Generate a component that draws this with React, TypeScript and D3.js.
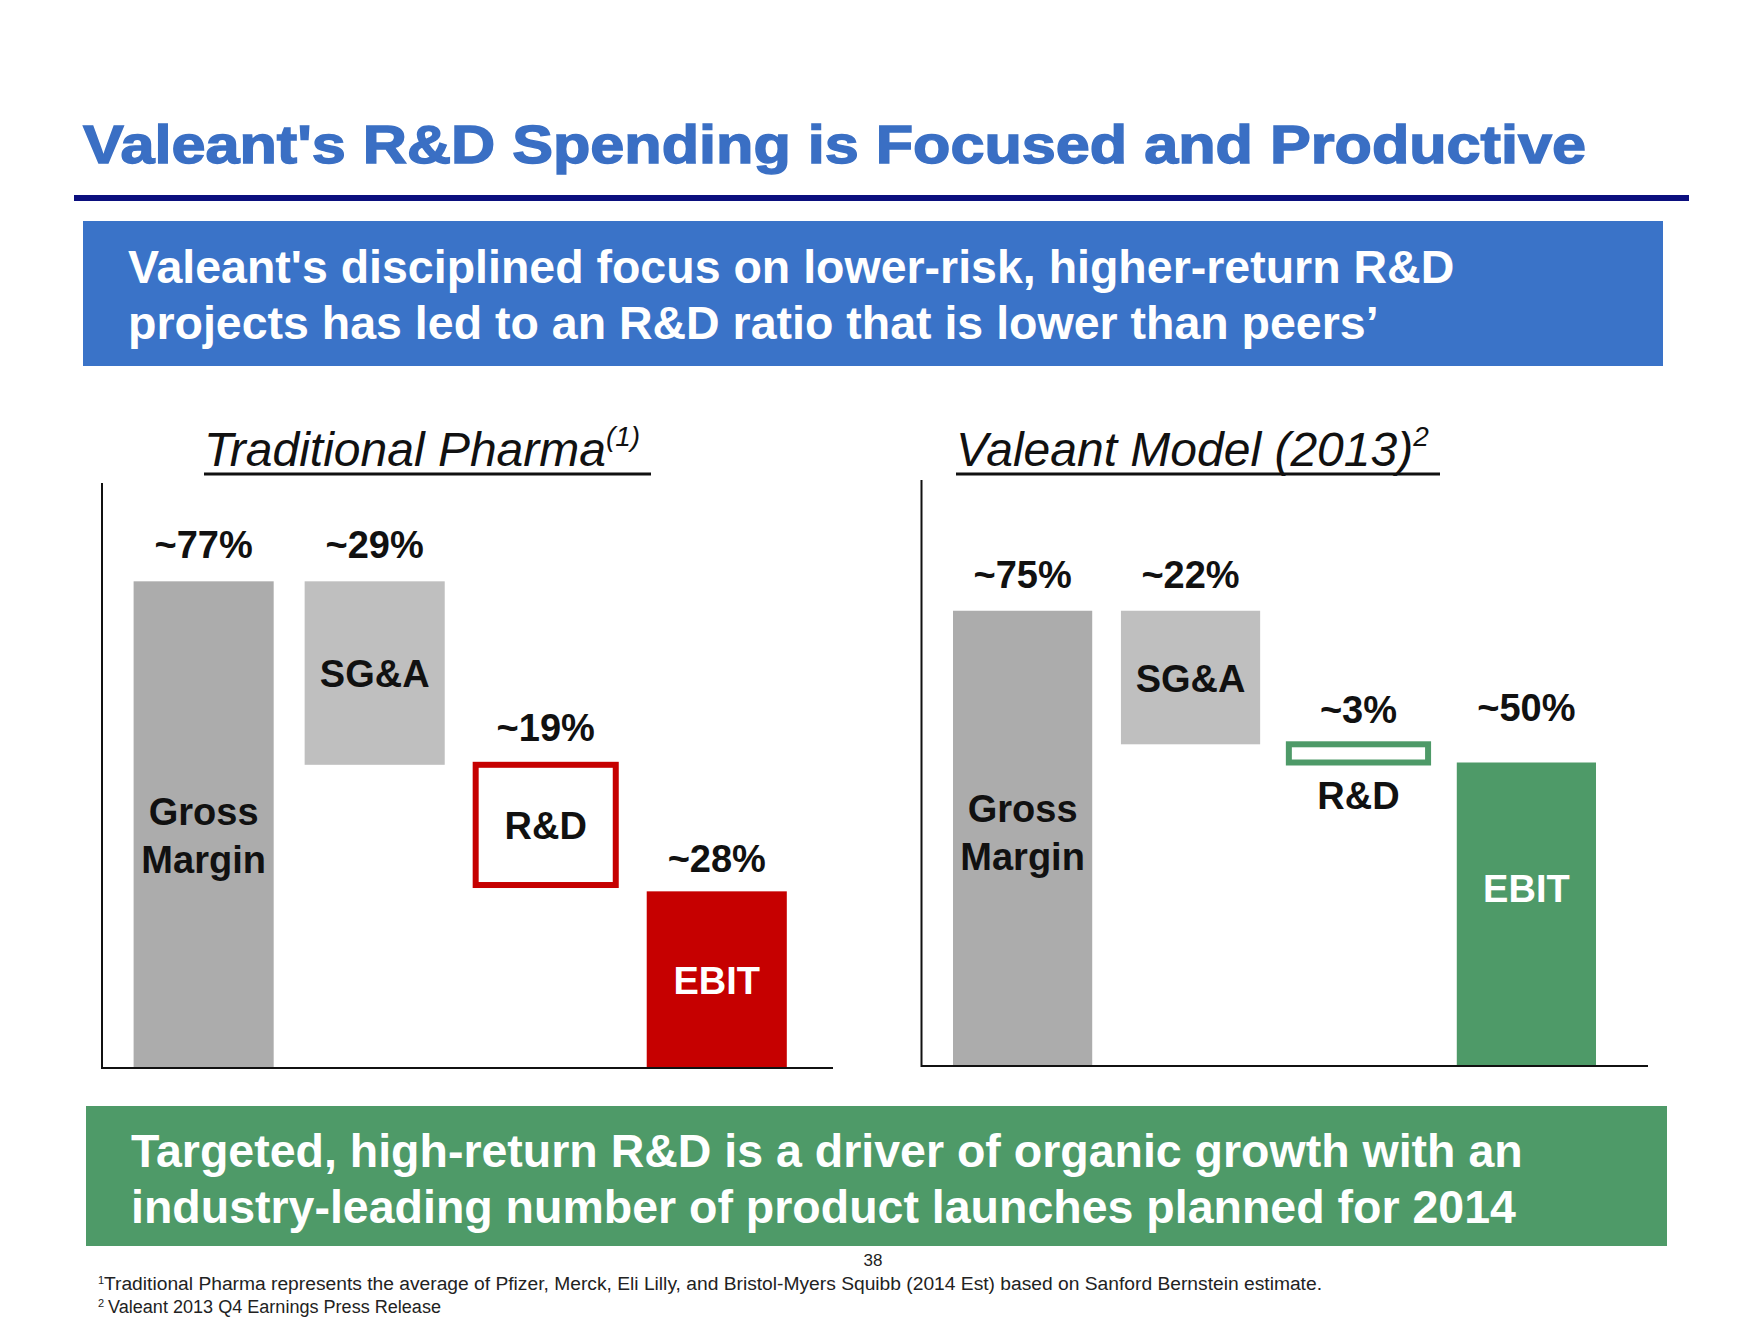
import React from "react";
import * as d3 from "d3";

// ---------- data ----------
const categories = ["Gross Margin", "SG&A", "R&D", "EBIT"];
const tradValues = [77, 29, 19, 28];
const tradLabels = ["~77%", "~29%", "~19%", "~28%"];
const valeantValues = [75, 22, 3, 50];
const valeantLabels = ["~75%", "~22%", "~3%", "~50%"];
const innerLabels = [["Gross", "Margin"], ["SG&A"], ["R&D"], ["EBIT"]];

const titleText = "Valeant's R&D Spending is Focused and Productive";
const blueLines = [
  "Valeant's disciplined focus on lower-risk, higher-return R&D",
  "projects has led to an R&D ratio that is lower than peers\u2019",
];
const greenLines = [
  "Targeted, high-return R&D is a driver of organic growth with an",
  "industry-leading number of product launches planned for 2014",
];
const footnote1 = "Traditional Pharma represents the average of Pfizer, Merck, Eli Lilly, and Bristol-Myers Squibb (2014 Est) based on Sanford Bernstein estimate.";
const footnote2 = "Valeant 2013 Q4 Earnings Press Release";
const pageNumber = "38";

// ---------- style / layout ----------
const FONT = "'Liberation Sans', Arial, Helvetica, sans-serif";
const GM_FILL = "#acacac";
const SGA_FILL = "#bfbfbf";

type Panel = {
  title: string;
  sup: string;
  values: number[];
  labels: string[];
  accent: string;
  xRange: [number, number];
  padInner: number;
  yRange: [number, number];
  axisX: number;
  axisTop: number;
  axisRight: number;
  axisY: number;
  titleX: number;
  underlineEnd: number;
  labelGaps: number[];
  ebitShift: number;
};

const panels: Panel[] = [
  {
    title: "Traditional Pharma",
    sup: "(1)",
    values: tradValues,
    labels: tradLabels,
    accent: "#c60000",
    xRange: [133.6, 786.8],
    padInner: 0.181,
    yRange: [1068.5, 435.8],
    axisX: 102,
    axisTop: 483,
    axisRight: 833,
    axisY: 1068,
    titleX: 204,
    underlineEnd: 651,
    labelGaps: [23, 23, 24, 19],
    ebitShift: 0,
  },
  {
    title: "Valeant Model (2013)",
    sup: "2",
    values: valeantValues,
    labels: valeantLabels,
    accent: "#4e9a68",
    xRange: [953, 1596],
    padInner: 0.171,
    yRange: [1066, 459],
    axisX: 921.5,
    axisTop: 480,
    axisRight: 1648,
    axisY: 1066,
    titleX: 956,
    underlineEnd: 1440,
    labelGaps: [23, 23, 21, 42],
    ebitShift: -26,
  },
];

function waterfall(values: number[]): [number, number][] {
  const out: [number, number][] = [];
  let running = 0;
  values.forEach((v, i) => {
    if (i === 0) {
      out.push([0, v]);
      running = v;
    } else if (i === values.length - 1) {
      out.push([0, v]);
    } else {
      out.push([running - v, running]);
      running -= v;
    }
  });
  return out;
}

function PanelChart({ p }: { p: Panel }) {
  const x = d3.scaleBand<string>().domain(categories).range(p.xRange).paddingInner(p.padInner).paddingOuter(0);
  const y = d3.scaleLinear().domain([0, 100]).range(p.yRange);
  const spans = waterfall(p.values);
  const bw = x.bandwidth();

  return (
    <g>
      {/* subtitle */}
      <text x={p.titleX} y={466} fontFamily={FONT} fontStyle="italic" fontSize={48} fill="#111">
        {p.title}
        <tspan fontSize={28} dy={-20}>{p.sup}</tspan>
      </text>
      <line x1={p.titleX} x2={p.underlineEnd} y1={474} y2={474} stroke="#111" strokeWidth={3} />

      {/* bars */}
      {categories.map((c, i) => {
        const [lo, hi] = spans[i];
        const top = y(hi);
        const bottom = y(lo);
        const x0 = x(c) as number;
        const cx = x0 + bw / 2;
        const isRD = c === "R&D";
        const isEBIT = c === "EBIT";
        const fill = c === "Gross Margin" ? GM_FILL : c === "SG&A" ? SGA_FILL : isRD ? "#ffffff" : p.accent;
        const h = bottom - top;
        const mid = (top + bottom) / 2;
        const lines = innerLabels[i];
        const labelBelow = isRD && h < 60;
        return (
          <g key={c}>
            <rect
              x={x0}
              y={top}
              width={bw}
              height={h}
              fill={fill}
              stroke={isRD ? p.accent : "none"}
              strokeWidth={isRD ? 6 : 0}
            />
            <text x={cx} y={top - p.labelGaps[i]} textAnchor="middle" fontFamily={FONT} fontWeight="bold" fontSize={38} fill="#111">
              {p.labels[i]}
            </text>
            {lines.length === 2 ? (
              <text textAnchor="middle" fontFamily={FONT} fontWeight="bold" fontSize={38} fill="#111">
                <tspan x={cx} y={bottom - 244}>{lines[0]}</tspan>
                <tspan x={cx} y={bottom - 196}>{lines[1]}</tspan>
              </text>
            ) : (
              <text
                x={cx}
                y={labelBelow ? bottom + 46 : mid + 14 + (isEBIT ? p.ebitShift : 0)}
                textAnchor="middle"
                fontFamily={FONT}
                fontWeight="bold"
                fontSize={38}
                fill={isEBIT ? "#ffffff" : "#111"}
              >
                {lines[0]}
              </text>
            )}
          </g>
        );
      })}

      {/* axes */}
      <line x1={p.axisX} x2={p.axisX} y1={p.axisTop} y2={p.axisY + 1} stroke="#111" strokeWidth={2} />
      <line x1={p.axisX} x2={p.axisRight} y1={p.axisY} y2={p.axisY} stroke="#111" strokeWidth={2} />
    </g>
  );
}

export default function App() {
  return (
    <svg
      width={1760}
      height={1320}
      viewBox="0 0 1760 1320"
      style={{ position: "absolute", left: 0, top: 0, background: "#ffffff" }}
    >
      <rect x={0} y={0} width={1760} height={1320} fill="#ffffff" />

      {/* title */}
      <text
        x={83}
        y={163}
        fontFamily={FONT}
        fontWeight="bold"
        fontSize={53}
        fill="#3a6fc4"
        stroke="#3a6fc4"
        strokeWidth={1.4}
        textLength={1503}
        lengthAdjust="spacingAndGlyphs"
      >
        {titleText}
      </text>
      <rect x={74} y={195} width={1615} height={6} fill="#0b0f7e" />

      {/* blue box */}
      <rect x={83} y={221} width={1580} height={145} fill="#3a73c8" />
      {blueLines.map((l, i) => (
        <text key={i} x={128} y={283 + i * 56} fontFamily={FONT} fontWeight="bold" fontSize={46.5} fill="#ffffff">
          {l}
        </text>
      ))}

      {panels.map((p, i) => (
        <PanelChart key={i} p={p} />
      ))}

      {/* green box */}
      <rect x={86} y={1106} width={1581} height={140} fill="#4e9a68" />
      {greenLines.map((l, i) => (
        <text key={i} x={131} y={1167 + i * 56} fontFamily={FONT} fontWeight="bold" fontSize={46.5} fill="#ffffff">
          {l}
        </text>
      ))}

      {/* page number & footnotes */}
      <text x={873} y={1266} textAnchor="middle" fontFamily={FONT} fontSize={17} fill="#222">
        {pageNumber}
      </text>
      <text x={98} y={1284} fontFamily={FONT} fontSize={11} fill="#222">1</text>
      <text x={104} y={1290} fontFamily={FONT} fontSize={18} fill="#222" textLength={1218} lengthAdjust="spacingAndGlyphs">
        {footnote1}
      </text>
      <text x={98} y={1307} fontFamily={FONT} fontSize={11} fill="#222">2</text>
      <text x={108} y={1313} fontFamily={FONT} fontSize={18} fill="#222" textLength={333} lengthAdjust="spacingAndGlyphs">
        {footnote2}
      </text>
    </svg>
  );
}
